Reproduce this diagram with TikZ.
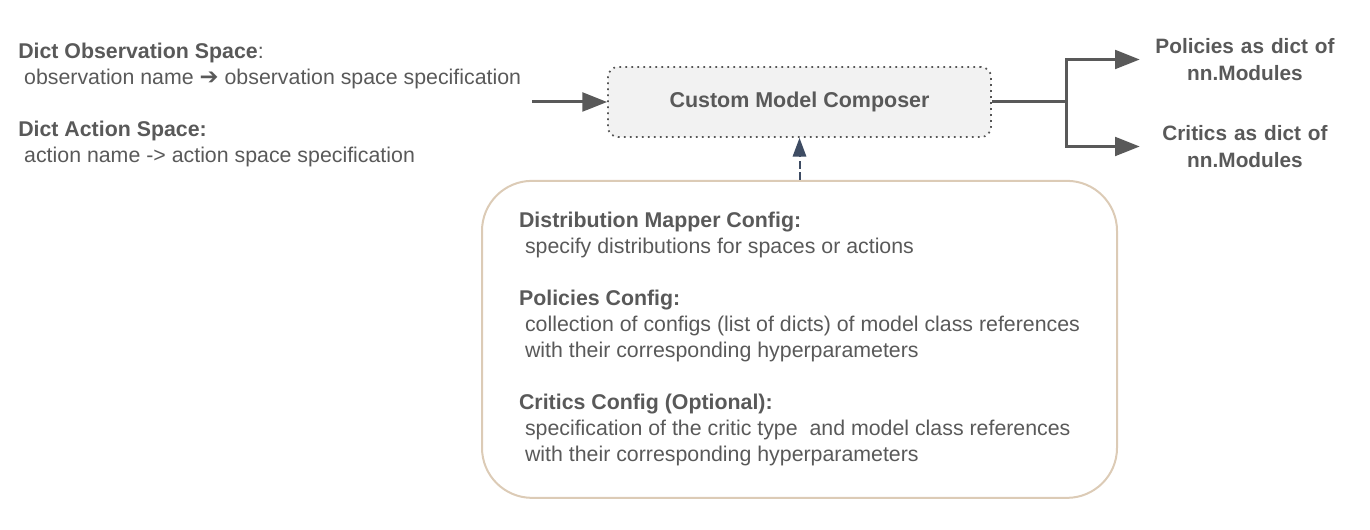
\documentclass[tikz,border=0pt]{standalone}
\usepackage{fontspec}
\setmainfont{Liberation Sans}
\newfontfamily\arrowfont{DejaVu Sans}
\usetikzlibrary{arrows.meta,positioning}
\definecolor{textgray}{HTML}{595959}
\definecolor{dotgray}{HTML}{555555}
\definecolor{dashblue}{HTML}{3E4C63}
\definecolor{cfgborder}{HTML}{DCCBB6}
\definecolor{boxfill}{HTML}{F2F2F2}

\begin{document}
\begin{tikzpicture}[x=0.75pt,y=-0.75pt,>=Triangle,
  every node/.style={text=textgray,font=\fontsize{16}{19.5}\selectfont},
  main node/.style={draw=dotgray,line width=1.3pt,dash pattern=on 1.3pt off 3.2pt,rounded corners=7.5pt,fill=boxfill,minimum width=287.25pt,minimum height=52.5pt,font=\fontsize{16.1}{19.5}\selectfont\bfseries},
  config node/.style={draw=cfgborder,line width=1.5pt,rounded corners=37.5pt,minimum width=476.25pt,minimum height=237.75pt,align=left},
  out node/.style={align=center,text width=140pt,inner xsep=8.75pt,font=\fontsize{15.6}{20.25}\selectfont\bfseries},
  main arrow/.style={draw=textgray,line width=2.25pt,-{Triangle[length=18.5pt,width=14pt]}},
  config arrow/.style={draw=dashblue,line width=1.5pt,dash pattern=on 6pt off 2.5pt,-{Triangle[length=14pt,width=10pt]}}]
    \useasboundingbox (0,0) rectangle (1370,530);

    \node[anchor=north west,align=left,inner sep=0pt] (1) at (18,42.5)
        {\textbf{Dict Observation Space}:\\
         \ observation name {\arrowfont\fontsize{17}{19.5}\selectfont ➔} observation space specification\\[19.5pt]
         \textbf{Dict Action Space:}\\
         \ action name -> action space specification};
    \coordinate (in) at (532,102);

    \node[main node] (2) at (799.5,102) {Custom Model Composer};

    \node[out node] (3) at (1245,59.5) {Policies as dict of\\nn.Modules};
    \node[out node] (4) at (1245,146.5) {Critics as dict of\\nn.Modules};
    \coordinate (s) at (1066,102);

    \node[config node] (5) [below=31.5pt of 2]
        {\textbf{Distribution Mapper Config:}\\
         \ specify distributions for spaces or actions\\[19.5pt]
         \textbf{Policies Config:}\\
         \ collection of configs (list of dicts) of model class references\\
         \ with their corresponding hyperparameters\\[19.5pt]
         \textbf{Critics Config (Optional):}\\
         \ specification of the critic type \ and model class references\\
         \ with their corresponding hyperparameters};

    \draw[main arrow] (in) -- (2.west);
    \draw[main arrow] (2.east) -- (s) |- (3.west);
    \draw[main arrow] (s) |- (4.west);
    \draw[config arrow] (5.north) -- (2.south);
\end{tikzpicture}
\end{document}
